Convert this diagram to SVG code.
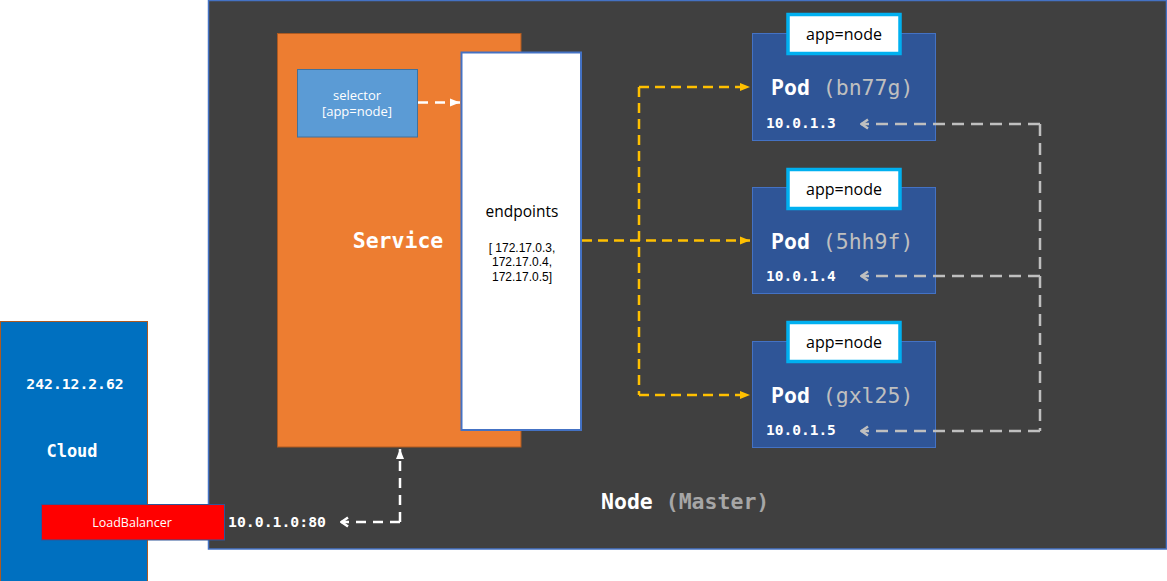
<svg xmlns="http://www.w3.org/2000/svg" width="1167" height="581" viewBox="0 0 1167 581">
<style>
.mono{font-family:"DejaVu Sans Mono","Liberation Mono",monospace;font-weight:bold;fill:#ffffff}
.sans{font-family:"Open Sans","Noto Sans","Liberation Sans",sans-serif}
.lsans{font-family:"Liberation Sans",Arial,sans-serif}
.pod{fill:#2f5597;stroke:#4472c4;stroke-width:1}
.lbl{fill:#ffffff;stroke:#00b0f0;stroke-width:3.5}
.lbltxt{font-size:16px;fill:#000000;text-anchor:middle}
.podname{font-size:21.5px}
.podid{font-weight:normal;fill:#bfbfbf}
.ip{font-size:14.5px}
.y{fill:none;stroke:#ffc000;stroke-width:2.5;stroke-dasharray:10 6}
.g{fill:none;stroke:#bfbfbf;stroke-width:2.5;stroke-dasharray:12 7}
.w{fill:none;stroke:#ffffff;stroke-width:2.5;stroke-dasharray:10 7}
</style>
<defs>
<marker id="ay" viewBox="0 0 10 10" refX="10" refY="5" markerWidth="10" markerHeight="10" markerUnits="userSpaceOnUse" orient="auto"><path d="M0,1 L10,5 L0,9 z" fill="#ffc000"/></marker>
<marker id="ag" viewBox="0 0 12 12" refX="11" refY="6" markerWidth="12" markerHeight="12" markerUnits="userSpaceOnUse" orient="auto"><path d="M4,1.5 L10.5,6 L4,10.5" fill="none" stroke="#bfbfbf" stroke-width="2.5"/></marker>
<marker id="aw" viewBox="0 0 10 10" refX="10" refY="5" markerWidth="10" markerHeight="10" markerUnits="userSpaceOnUse" orient="auto"><path d="M0,1 L10,5 L0,9 z" fill="#ffffff"/></marker>
<marker id="awc" viewBox="0 0 12 12" refX="11" refY="6" markerWidth="12" markerHeight="12" markerUnits="userSpaceOnUse" orient="auto"><path d="M4,1.5 L10.5,6 L4,10.5" fill="none" stroke="#ffffff" stroke-width="2.5"/></marker>
</defs>
<rect x="0" y="0" width="1167" height="581" fill="#ffffff"/>

<g id="cloud">
<rect x="0.5" y="321.5" width="147" height="270" fill="#0070c0" stroke="#ae5a21" stroke-width="1"/>
<text class="mono" x="75" y="389" font-size="14.7" text-anchor="middle">242.12.2.62</text>
<text class="mono" x="72" y="457" font-size="17" text-anchor="middle">Cloud</text>
</g>

<g id="node-master">
<rect x="208.5" y="0.5" width="958" height="548.5" fill="#404040" stroke="#4472c4" stroke-width="1.5"/>
<text class="mono" x="601" y="509" font-size="21.5">Node <tspan fill="#a6a6a6">(Master)</tspan></text>
</g>

<g id="service">
<rect x="277.5" y="33.5" width="243.5" height="413.5" fill="#ed7d31" stroke="#ae5a21" stroke-width="1"/>
<text class="mono" x="398" y="248" font-size="21.5" text-anchor="middle">Service</text>
</g>

<g id="selector">
<rect x="297.5" y="69.5" width="120" height="67.5" fill="#5b9bd5" stroke="#41719c" stroke-width="1"/>
<text class="sans" x="357" y="100" font-size="13" fill="#ffffff" text-anchor="middle">selector</text>
<text class="sans" x="357" y="116" font-size="13" fill="#ffffff" text-anchor="middle">[app=node]</text>
</g>

<g id="endpoints">
<rect x="461.5" y="52.5" width="119.5" height="377.5" fill="#ffffff" stroke="#4472c4" stroke-width="2"/>
<text class="sans" x="522" y="217" font-size="15.5" fill="#000000" text-anchor="middle">endpoints</text>
<text class="lsans" x="522" y="251.5" font-size="12" fill="#000000" text-anchor="middle">[ 172.17.0.3,</text>
<text class="lsans" x="522" y="266" font-size="12" fill="#000000" text-anchor="middle">172.17.0.4,</text>
<text class="lsans" x="522" y="280.5" font-size="12" fill="#000000" text-anchor="middle">172.17.0.5]</text>
</g>

<g id="pod-bn77g">
<rect class="pod" x="752.5" y="33.5" width="183" height="107"/>
<rect class="lbl" x="788" y="14.5" width="112" height="39"/>
<text class="sans lbltxt" x="844" y="40">app=node</text>
<text class="mono podname" x="771" y="95">Pod <tspan class="podid">(bn77g)</tspan></text>
<text class="mono ip" x="766" y="128">10.0.1.3</text>
</g>

<g id="pod-5hh9f">
<rect class="pod" x="752.5" y="187.5" width="183" height="106"/>
<rect class="lbl" x="788" y="169.5" width="112" height="39"/>
<text class="sans lbltxt" x="844" y="195">app=node</text>
<text class="mono podname" x="771" y="249">Pod <tspan class="podid">(5hh9f)</tspan></text>
<text class="mono ip" x="766" y="281">10.0.1.4</text>
</g>

<g id="pod-gxl25">
<rect class="pod" x="752.5" y="341.5" width="183" height="106"/>
<rect class="lbl" x="788" y="322.5" width="112" height="39"/>
<text class="sans lbltxt" x="844" y="348">app=node</text>
<text class="mono podname" x="771" y="403">Pod <tspan class="podid">(gxl25)</tspan></text>
<text class="mono ip" x="766" y="435">10.0.1.5</text>
</g>

<g id="loadbalancer">
<rect x="41.5" y="504.5" width="183" height="35.5" fill="#ff0000" stroke="#2f5597" stroke-width="1"/>
<text class="sans" x="132" y="527" font-size="12.5" fill="#ffffff" text-anchor="middle">LoadBalancer</text>
<text class="mono" x="228" y="527" font-size="14.8">10.0.1.0:80</text>
</g>

<g id="connectors">
<path class="w" d="M418,102.5 L460,102.5" marker-end="url(#aw)"/>
<path class="y" d="M582,240.5 L750,240.5" marker-end="url(#ay)"/>
<path class="y" d="M639,87 L639,395"/>
<path class="y" d="M639,87 L750,87" marker-end="url(#ay)"/>
<path class="y" d="M639,395 L750,395" marker-end="url(#ay)"/>
<path class="g" d="M1040,124 L1040,431"/>
<path class="g" d="M1040,124 L861,124" marker-end="url(#ag)"/>
<path class="g" d="M1040,276 L861,276" marker-end="url(#ag)"/>
<path class="g" d="M1040,431 L861,431" marker-end="url(#ag)"/>
<path class="w" d="M400,522 L400,449" marker-end="url(#aw)"/>
<path class="w" d="M400,522 L341,522" marker-end="url(#awc)"/>
</g>
</svg>
